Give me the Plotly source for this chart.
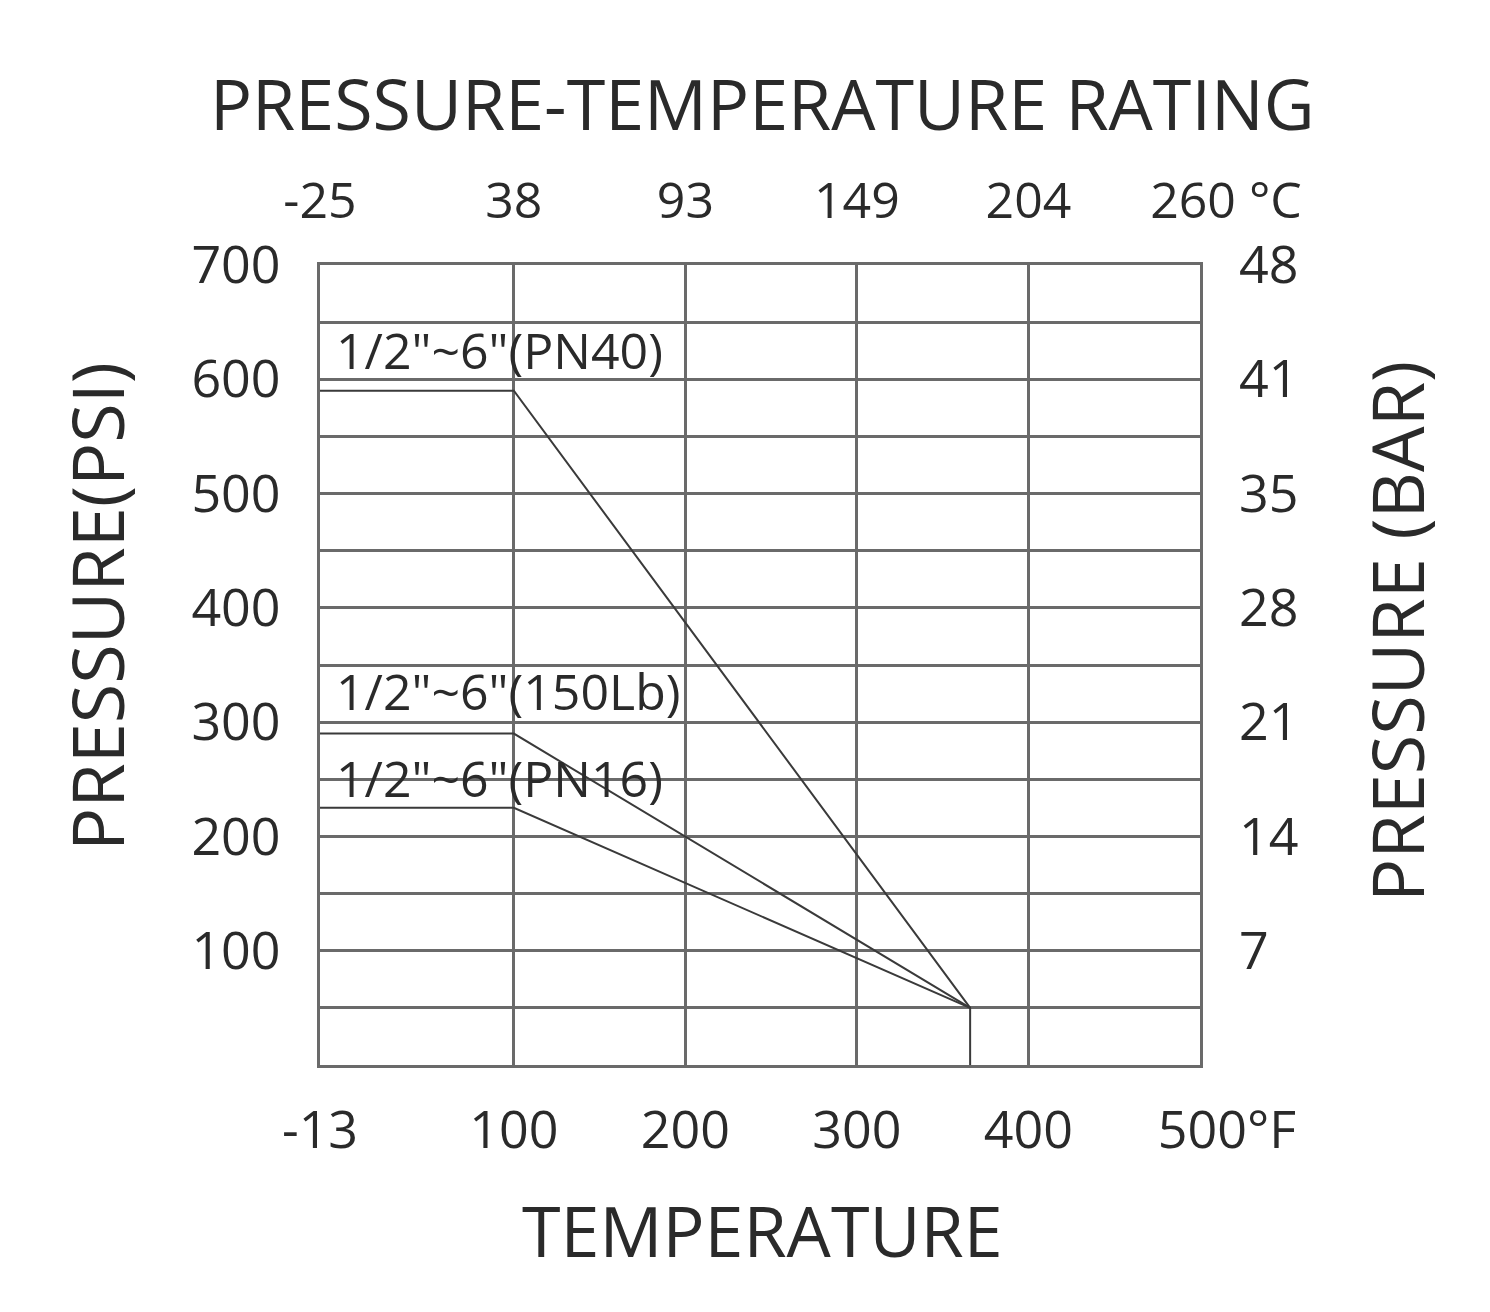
import plotly.graph_objects as go

# ---- data ----
temp_f_ticks = [-13, 100, 200, 300, 400, 500]
temp_f_labels = ["-13", "100", "200", "300", "400", "\u00a0\u00a0\u00a0\u00a0500°F"]
temp_c_labels = ["-25", "38", "93", "149", "204", "\u00a0\u00a0\u00a0\u00a0260 °C"]
psi_grid = [0, 50, 100, 150, 200, 250, 300, 350, 400, 450, 500, 550, 600, 650, 700]
psi_labels = ["", "", "100", "", "200", "", "300", "", "400", "", "500", "", "600", "", "700"]
bar_ticks = [100, 200, 300, 400, 500, 600, 700]
bar_labels = ["7", "14", "21", "28", "35", "41", "48"]

series_names = ['1/2"~6"(PN40)', '1/2"~6"(150Lb)', '1/2"~6"(PN16)']
series_x = [[-13, 100, 366, 366], [-13, 100, 366], [-13, 100, 366]]
series_y = [[590, 590, 50, 0], [290, 290, 50], [225, 225, 50]]
label_y = [626, 327, 251]

FONT = "Open Sans"
TXT = "#2a2a2a"
GRID = "#6a6a6a"

W, H = 1490, 1312
L, R, T, B = 320, 290, 265, 247
pw, ph = W - L - R, H - T - B

def px(x):
    return (x - L) / pw

def py(y):
    return (H - B - y) / ph

fig = go.Figure()
for name, xs, ys in zip(series_names, series_x, series_y):
    fig.add_trace(go.Scatter(x=xs, y=ys, mode="lines", name=name,
                             line=dict(color="#3a3a3a", width=2),
                             showlegend=False, hoverinfo="skip"))
# invisible trace on secondary axes so they render
fig.add_trace(go.Scatter(x=[temp_f_ticks[0]], y=[psi_grid[0]], xaxis="x2", yaxis="y2",
                         mode="markers", marker=dict(opacity=0), showlegend=False,
                         hoverinfo="skip"))

for name, ly in zip(series_names, label_y):
    fig.add_annotation(x=-5, y=ly, xref="x", yref="y", text=name, showarrow=False,
                       xanchor="left", yanchor="middle",
                       font=dict(family=FONT, size=50, color=TXT))

fig.add_annotation(x=px(762), y=py(103), xref="paper", yref="paper",
                   text="PRESSURE-TEMPERATURE RATING", showarrow=False,
                   xanchor="center", yanchor="middle",
                   font=dict(family=FONT, size=70, color=TXT))
fig.add_annotation(x=px(762), y=py(1230), xref="paper", yref="paper",
                   text="TEMPERATURE", showarrow=False,
                   xanchor="center", yanchor="middle",
                   font=dict(family=FONT, size=70, color=TXT))
fig.add_annotation(x=px(96), y=py(607), xref="paper", yref="paper",
                   text="PRESSURE(PSI)", showarrow=False, textangle=-90,
                   xanchor="center", yanchor="middle",
                   font=dict(family=FONT, size=72, color=TXT))
fig.add_annotation(x=px(1396), y=py(632), xref="paper", yref="paper",
                   text="PRESSURE (BAR)", showarrow=False, textangle=-90,
                   xanchor="center", yanchor="middle",
                   font=dict(family=FONT, size=72, color=TXT))

tickfont = dict(family=FONT, size=52, color=TXT)

fig.update_layout(
    width=W, height=H,
    margin=dict(l=L, r=R, t=T, b=B, autoexpand=False),
    paper_bgcolor="white", plot_bgcolor="white",
    xaxis=dict(range=[temp_f_ticks[0], temp_f_ticks[-1]], tickvals=temp_f_ticks,
               ticktext=temp_f_labels, showgrid=True, gridcolor=GRID, gridwidth=3,
               showline=True, linecolor=GRID, linewidth=3, mirror=True,
               ticks="", ticklabelstandoff=18, tickfont=tickfont, zeroline=False,
               fixedrange=True),
    xaxis2=dict(range=[temp_f_ticks[0], temp_f_ticks[-1]], tickvals=temp_f_ticks,
                ticktext=temp_c_labels, overlaying="x", side="top", showgrid=False,
                ticks="", ticklabelstandoff=36, tickfont=dict(family=FONT, size=50, color=TXT),
                zeroline=False, showline=False),
    yaxis=dict(range=[psi_grid[0], psi_grid[-1]], tickvals=psi_grid, ticktext=psi_labels,
               showgrid=True, gridcolor=GRID, gridwidth=3,
               showline=True, linecolor=GRID, linewidth=3, mirror=True,
               ticks="", ticklabelstandoff=26, tickfont=tickfont, zeroline=False),
    yaxis2=dict(range=[psi_grid[0], psi_grid[-1]], tickvals=bar_ticks, ticktext=bar_labels,
                overlaying="y", side="right", showgrid=False, ticks="",
                ticklabelstandoff=38, tickfont=tickfont, zeroline=False, showline=False),
)

fig.write_html("out.html")
